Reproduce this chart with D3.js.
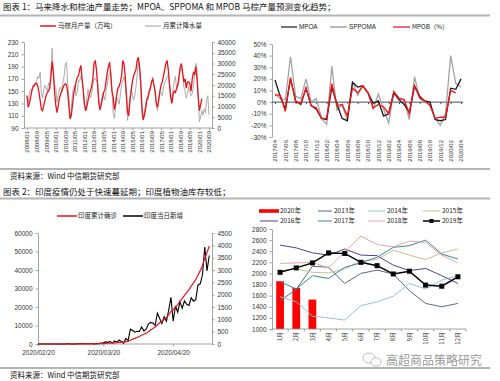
<!DOCTYPE html>
<html><head><meta charset="utf-8">
<script src="https://cdn.jsdelivr.net/npm/d3@7"></script>
<style>
body{margin:0;background:#fff;}
svg{display:block;font-family:"Liberation Sans",Arial,sans-serif;}
.cn{font-family:"Noto Sans CJK SC",sans-serif;}
</style></head><body>
<svg id="c" width="500" height="381"></svg>
<script>
// ---------- DATA ----------
// Chart 1: Malaysia palm oil production (万吨), 2008/01 - 2020/03
const palmProd = [
 143,124,130,140,150,157,160,162,163,158,148,135,
 120,118,127,135,143,148,150,155,175,198,180,150,
 128,115,125,138,145,150,155,160,162,160,148,125,
 105,110,128,145,155,165,172,175,185,192,170,150,
 128,118,125,135,145,150,158,170,195,200,185,160,
 130,120,128,138,148,152,165,180,190,197,175,150,
 140,120,130,145,155,158,165,175,200,195,175,145,
 115,110,135,150,165,175,180,185,200,205,190,165,
 125,103,110,120,135,140,150,155,165,170,160,150,
 130,124,135,150,160,165,175,185,195,200,185,160,
 140,130,145,150,148,155,160,175,190,195,180,165,
 170,155,165,165,162,150,170,180,178,190,170,140,
 118,128,138
];
// Chart 1: monthly rainfall, 2008/01 - 2020/09
const rainfall = [
 15000,12000,16000,18000,17500,20000,19000,21000,22000,24000,23000,26000,
 16000,14000,18000,20000,18000,17000,21000,19000,26000,37000,26000,20000,
 19000,12000,15000,18000,19000,17000,21000,24000,30000,30500,20000,14000,
 4000,9000,16000,19000,20000,15000,17000,22000,22000,24000,22000,19000,
 11000,9000,14000,18000,16000,14000,16000,20000,23000,23000,22000,21000,
 13000,8000,12000,16000,15000,13000,17000,20000,24000,25000,26000,16000,
 7000,4500,10000,14000,13000,11000,16000,20000,22000,24000,21000,14000,
 3500,9000,14000,18000,16000,13000,15000,19000,25000,31000,27000,18000,
 6000,4500,7000,11000,14000,13000,16000,18000,21000,22000,20000,16000,
 10000,8000,14000,17000,16000,15000,19000,21000,22000,24000,25000,22000,
 16000,12000,18000,22000,24000,18000,20000,22000,27000,28000,25000,19000,
 17000,14000,16000,19000,17000,15000,16000,20000,24000,30000,27000,15000,
 3000,5000,8000,6000,9000,7000,13000,15000,6000
];
const axis1Left = [90,110,130,150,170,190,210,230];
const axis1Right = [0,5000,10000,15000,20000,25000,30000,35000,40000];

// Chart 2: production forecast changes (%), 2017/04 - 2020/04
const mpoa   = [19,5,-6,20,1,-2,12,-3,-6,-14,-15,13,-2,-14,-16,17,13,14,8,-1,1,-12,-10,8,2,-2,-9,14,5,1,0,-15,-16,-15,12,11,20];
const sppoma = [7,3,2,39,5,3,20,0,3,-14,-19,31,-7,-2,-16,18,6,14,8,-6,7,-6,-18,9,4,2,-15,22,3,0,-2,-14,-20,-10,40,16,13];
const mpob   = [6,6,-8,21,0,-1,12,-3,-5,-14,-14,16,-3,-2,-12,12,8,14,8,-5,-2,-4,-10,9,3,2,-10,14,4,1,-3,-14,-13,-13,10,8,null];
const axis2 = [-30,-20,-10,0,10,20,30,40,50];

// Chart 3: India COVID-19, daily from 2020-02-20
const covidStart = "2020-02-20";
const indiaCumulative = [
 3,3,3,3,3,3,3,3,3,3,3,
 5,6,28,30,31,34,39,48,63,71,81,91,102,113,119,142,156,194,244,330,396,499,536,657,727,887,987,1024,1251,1397,
 1998,2543,3021,3536,4042,4735,5268,5873,6682,7555,8403,9162,10410,11444,12279,13387,14309,15679,17572,18496,
 20037,21327,23034,24487,26240,27847,29408,31281,33019,34820,37214,39656,42462,46394,49357,52944
];
const indiaDaily = [
 0,0,0,0,0,0,0,0,0,0,0,
 2,1,22,2,1,3,5,9,15,8,10,10,11,11,6,23,14,38,50,86,66,103,37,121,70,160,100,37,227,146,
 601,545,478,515,506,693,533,605,809,873,848,759,1248,1034,835,1108,922,1370,1893,924,
 1541,1290,1707,1453,1753,1607,1561,1873,1738,1801,2394,2442,2806,3932,2963,3587
];
const axis3Left = [0,10000,20000,30000,40000,50000,60000];
const axis3Right = [0,500,1000,1500,2000,2500,3000,3500,4000,4500];
const axis3Dates = ["2020-02-20","2020-03-20","2020-04-20"];

// Chart 4: India vegetable oil stocks (千吨)
const months = ["1月","2月","3月","4月","5月","6月","7月","8月","9月","10月","11月","12月"];
const stock2020 = [1860,1740,1530];
const stockYears = [
 {name:"2013年", color:"#5b6886", values:[1510,1710,2130,2110,1820,2000,2060,1990,1690,1460,1400,1460]},
 {name:"2014年", color:"#93c3d3", values:[1580,1490,1230,1200,1160,1420,1490,1590,1820,1720,1880,1960]},
 {name:"2015年", color:"#c9c08c", values:[2050,2080,2020,2010,2080,2230,2250,2420,2330,2250,2370,2440]},
 {name:"2016年", color:"#4e428c", values:[2510,2460,2370,2330,2440,2330,2320,2150,2050,2090,1960,1820]},
 {name:"2017年", color:"#31899b", values:[1850,1720,1960,1910,2110,2190,2290,2470,2500,2600,2350,2260]},
 {name:"2018年", color:"#e9a3a3", values:[2180,2190,2200,2100,2390,2670,2520,2480,2580,2560,2330,2190]},
 {name:"2019年", color:"#000000", values:[2020,2100,2190,2370,2360,2200,2140,1990,2040,1790,1770,1940]}
];
const axis4 = [1000,1200,1400,1600,1800,2000,2200,2400,2600,2800];

// ---------- DRAW ----------
const svg = d3.select("#c");
svg.append("rect").attr("width",500).attr("height",381).attr("fill","#fff");
const fmt = d3.format("d");

function rule(y){ svg.append("line").attr("x1",0).attr("x2",490).attr("y1",y).attr("y2",y).attr("stroke","#b4b4b4").attr("stroke-width",2); }
function txt(x,y,s,size,opts={}){
  const t = svg.append("text").attr("x",x).attr("y",y).text(s).attr("font-size",size)
    .attr("fill",opts.fill||"#222").attr("class",opts.cn?"cn":null);
  if(opts.anchor) t.attr("text-anchor",opts.anchor);
  return t;
}
function styleAxis(g, size){
  g.selectAll("path.domain").attr("stroke","#8c8c8c").attr("stroke-width",0.8);
  g.selectAll(".tick line").attr("stroke","#8c8c8c").attr("stroke-width",0.8);
  g.selectAll(".tick text").attr("font-size",size).attr("fill","#333");
}

// headings / rules
txt(3,10,"图表 1：马来降水和棕油产量走势；MPOA、SPPOMA 和 MPOB 马棕产量预测变化趋势；",8.5,{cn:true,fill:"#111"});
rule(15.5);
rule(169);
txt(10,179,"资料来源：Wind 中信期货研究部",7.5,{cn:true,fill:"#111"});
txt(3,195,"图表 2：印度疫情仍处于快速蔓延期；印度植物油库存较低；",8.5,{cn:true,fill:"#111"});
rule(198.5);
rule(368);
txt(10,378,"资料来源：Wind 中信期货研究部",7.5,{cn:true,fill:"#111"});

// ---------- Chart 1 ----------
{
  const x = d3.scaleLinear().domain([0,152]).range([27,209]);
  const yL = d3.scaleLinear().domain([90,230]).range([128,42]);
  const yR = d3.scaleLinear().domain([0,40000]).range([128,42]);
  const gL = svg.append("g").attr("transform","translate(24,0)").call(d3.axisLeft(yL).tickValues(axis1Left).tickSize(2.5).tickSizeOuter(0).tickFormat(fmt));
  styleAxis(gL,6.5);
  const gR = svg.append("g").attr("transform","translate(212,0)").call(d3.axisRight(yR).tickValues(axis1Right).tickSize(2.5).tickSizeOuter(0).tickFormat(fmt));
  styleAxis(gR,6.5);
  const ticks = d3.range(0,153,8);
  const gB = svg.append("g").attr("transform","translate(0,128)")
    .call(d3.axisBottom(x).tickValues(ticks).tickSize(2).tickSizeOuter(0)
      .tickFormat(i => (2008+Math.floor(i/12)) + "/" + String(i%12+1).padStart(2,"0")));
  gB.select("path.domain").attr("d","M24,0H212");
  styleAxis(gB,6);
  gB.selectAll(".tick text").attr("transform","rotate(-90)").attr("text-anchor","end")
    .attr("x",-3).attr("y",0).attr("dy","0.32em");
  const lineR = d3.line().x((d,i)=>x(i)).y(d=>yR(d));
  svg.append("path").datum(rainfall).attr("d",lineR).attr("fill","none").attr("stroke","#a3a3a3").attr("stroke-width",0.9);
  const lineL = d3.line().x((d,i)=>x(i)).y(d=>yL(d));
  svg.append("path").datum(palmProd).attr("d",lineL).attr("fill","none").attr("stroke","#e8141c").attr("stroke-width",1.3);
  // legend
  svg.append("line").attr("x1",40).attr("x2",56).attr("y1",26).attr("y2",26).attr("stroke","#e8141c").attr("stroke-width",1.5);
  txt(58,28.3,"马棕月产量（万吨）",6.5,{cn:true});
  svg.append("line").attr("x1",145).attr("x2",161).attr("y1",26).attr("y2",26).attr("stroke","#9d9d9d").attr("stroke-width",1);
  txt(163,28.3,"月累计降水量",6.5,{cn:true});
}

// ---------- Chart 2 ----------
{
  const x = d3.scaleLinear().domain([0,36]).range([275,461]);
  const y = d3.scaleLinear().domain([-30,50]).range([137,44]);
  const gL = svg.append("g").attr("transform","translate(272,0)")
    .call(d3.axisLeft(y).tickValues(axis2).tickSize(2.5).tickSizeOuter(0).tickFormat(d=>d+"%"));
  styleAxis(gL,6.5);
  const g0 = svg.append("g").attr("transform",`translate(0,${y(0)})`)
    .call(d3.axisBottom(x).tickValues(d3.range(0,37,2)).tickSize(2).tickSizeOuter(0).tickFormat(""));
  g0.select("path.domain").attr("d","M272,0H463").attr("stroke","#3d4d6b").attr("stroke-width",1);
  g0.selectAll(".tick line").attr("stroke","#3d4d6b");
  const gB = svg.append("g").attr("transform","translate(0,138)")
    .call(d3.axisBottom(x).tickValues(d3.range(0,37,2)).tickSize(0)
      .tickFormat(m => (2017+Math.floor((3+m)/12)) + "/" + String((3+m)%12+1).padStart(2,"0")));
  gB.select("path.domain").remove();
  gB.selectAll(".tick text").attr("font-size",6).attr("fill","#333").attr("transform","rotate(-90)")
    .attr("text-anchor","end").attr("x",-2).attr("y",0).attr("dy","0.32em");
  const line = d3.line().defined(d=>d!=null).x((d,i)=>x(i)).y(d=>y(d));
  svg.append("path").datum(sppoma).attr("d",line).attr("fill","none").attr("stroke","#a3a3a3").attr("stroke-width",1.3);
  svg.append("path").datum(mpoa).attr("d",line).attr("fill","none").attr("stroke","#1a1a1a").attr("stroke-width",1.3);
  svg.append("path").datum(mpob).attr("d",line).attr("fill","none").attr("stroke","#ff1010").attr("stroke-width",1.3);
  svg.append("line").attr("x1",281).attr("x2",297).attr("y1",27).attr("y2",27).attr("stroke","#444").attr("stroke-width",1.5);
  txt(299,29.3,"MPOA",6.3);
  svg.append("line").attr("x1",330).attr("x2",347).attr("y1",27).attr("y2",27).attr("stroke","#a3a3a3").attr("stroke-width",1.5);
  txt(349,29.3,"SPPOMA",6.3);
  svg.append("line").attr("x1",393).attr("x2",410).attr("y1",27).attr("y2",27).attr("stroke","#ee3b4b").attr("stroke-width",1.5);
  txt(412,29.3,"MPOB（%）",6.3,{cn:true});
}

// ---------- Chart 3 ----------
{
  const parse = d3.timeParse("%Y-%m-%d");
  const t0 = parse(covidStart);
  const x = d3.scaleTime().domain([t0, d3.timeDay.offset(t0,77)]).range([38,211.5]);
  const yL = d3.scaleLinear().domain([0,60000]).range([344,233]);
  const yR = d3.scaleLinear().domain([0,4500]).range([344,233]);
  const gL = svg.append("g").attr("transform","translate(38,0)").call(d3.axisLeft(yL).tickValues(axis3Left).tickSize(2.5).tickSizeOuter(0).tickFormat(fmt));
  styleAxis(gL,6.5);
  const gR = svg.append("g").attr("transform","translate(212,0)").call(d3.axisRight(yR).tickValues(axis3Right).tickSize(2.5).tickSizeOuter(0).tickFormat(fmt));
  styleAxis(gR,6.5);
  const gB = svg.append("g").attr("transform","translate(0,344)")
    .call(d3.axisBottom(x).tickValues(axis3Dates.map(parse)).tickSize(2.5).tickSizeOuter(0).tickFormat(d3.timeFormat("%Y/%m/%d")));
  gB.select("path.domain").attr("d","M38,0H212");
  styleAxis(gB,6.5);
  gB.selectAll(".tick text").attr("dy","0.9em");
  const lineR = d3.line().x((d,i)=>x(d3.timeDay.offset(t0,i))).y(d=>yR(d));
  svg.append("path").datum(indiaDaily).attr("d",lineR).attr("fill","none").attr("stroke","#000").attr("stroke-width",1.1);
  const lineL = d3.line().x((d,i)=>x(d3.timeDay.offset(t0,i))).y(d=>yL(d));
  svg.append("path").datum(indiaCumulative).attr("d",lineL).attr("fill","none").attr("stroke","#e8141c").attr("stroke-width",1.2);
  svg.append("line").attr("x1",57).attr("x2",77).attr("y1",216).attr("y2",216).attr("stroke","#e8141c").attr("stroke-width",1.5);
  txt(78,218.3,"印度累计确诊",6.5,{cn:true});
  svg.append("line").attr("x1",123).attr("x2",143).attr("y1",216).attr("y2",216).attr("stroke","#000").attr("stroke-width",1.5);
  txt(144,218.3,"印度当日新增",6.5,{cn:true});
}

// ---------- Chart 4 ----------
{
  const x = d3.scaleBand().domain(months).range([272,466]);
  const y = d3.scaleLinear().domain([1000,2800]).range([329,229]);
  const gL = svg.append("g").attr("transform","translate(272,0)").call(d3.axisLeft(y).tickValues(axis4).tickSize(2.5).tickSizeOuter(0).tickFormat(fmt));
  styleAxis(gL,6.5);
  const bw = x.bandwidth()*0.48;
  svg.append("g").selectAll("rect").data(stock2020).join("rect")
    .attr("x",(d,i)=>x(months[i])+x.bandwidth()/2-bw/2).attr("width",bw)
    .attr("y",d=>y(d)).attr("height",d=>y(1000)-y(d)).attr("fill","#ff0000");
  const gB = svg.append("g").attr("transform","translate(0,329)")
    .call(d3.axisBottom(x).tickSize(0).tickSizeOuter(0));
  gB.select("path.domain").attr("d","M272,0H466").attr("stroke","#8c8c8c").attr("stroke-width",0.8);
  gB.selectAll(".tick text").attr("font-size",6).attr("fill","#333").attr("class","cn").attr("transform","rotate(-90)")
    .attr("text-anchor","end").attr("x",-3).attr("y",0).attr("dy","0.35em");
  svg.append("g").selectAll("line").data(months.concat(["end"])).join("line")
    .attr("x1",(d,i)=> i<12 ? x(d) : x(months[11])+x.bandwidth())
    .attr("x2",(d,i)=> i<12 ? x(d) : x(months[11])+x.bandwidth())
    .attr("y1",329).attr("y2",331.5).attr("stroke","#8c8c8c").attr("stroke-width",0.8);
  const line = d3.line().x((d,i)=>x(months[i])+x.bandwidth()/2).y(d=>y(d));
  stockYears.forEach(s=>{
    svg.append("path").datum(s.values).attr("d",line).attr("fill","none")
      .attr("stroke",s.color).attr("stroke-width", s.name==="2019年"?1.5:1);
  });
  const s19 = stockYears[6];
  svg.append("g").selectAll("rect").data(s19.values).join("rect")
    .attr("x",(d,i)=>x(months[i])+x.bandwidth()/2-2.5).attr("y",d=>y(d)-2.5)
    .attr("width",5).attr("height",5).attr("fill","#000");
  const legX = [259,318,368,423];
  svg.append("rect").attr("x",259).attr("y",209.2).attr("width",20).attr("height",3.6).attr("fill","#ff0000");
  txt(280,213.3,"2020年",6.5,{cn:true});
  stockYears.forEach((s,k)=>{
    const idx = k+1, row = Math.floor(idx/4), col = idx%4;
    const yy = 211 + row*10;
    const x0 = col===0 ? 260 : legX[col];
    const x1 = col===0 ? 278 : legX[col] + (col===1?14:17);
    svg.append("line").attr("x1",x0).attr("x2",x1).attr("y1",yy).attr("y2",yy)
      .attr("stroke",s.color).attr("stroke-width", s.name==="2019年"?1.5:1);
    if(s.name==="2019年") svg.append("rect").attr("x",(x0+x1)/2-2).attr("y",yy-2).attr("width",4).attr("height",4).attr("fill","#000");
    txt(x1+2,yy+2.3,s.name,6.5,{cn:true});
  });
}

// ---------- watermark ----------
{
  const g = svg.append("g").attr("fill","none").attr("stroke","#b5b5b5").attr("stroke-width",0.9);
  g.append("ellipse").attr("cx",369).attr("cy",358).attr("rx",6).attr("ry",5);
  g.append("ellipse").attr("cx",376).attr("cy",362).attr("rx",5).attr("ry",4.2).attr("fill","#fff");
  txt(386,365,"高超商品策略研究",12,{cn:true,fill:"#9a9a9a"});
}
</script>
</body></html>
